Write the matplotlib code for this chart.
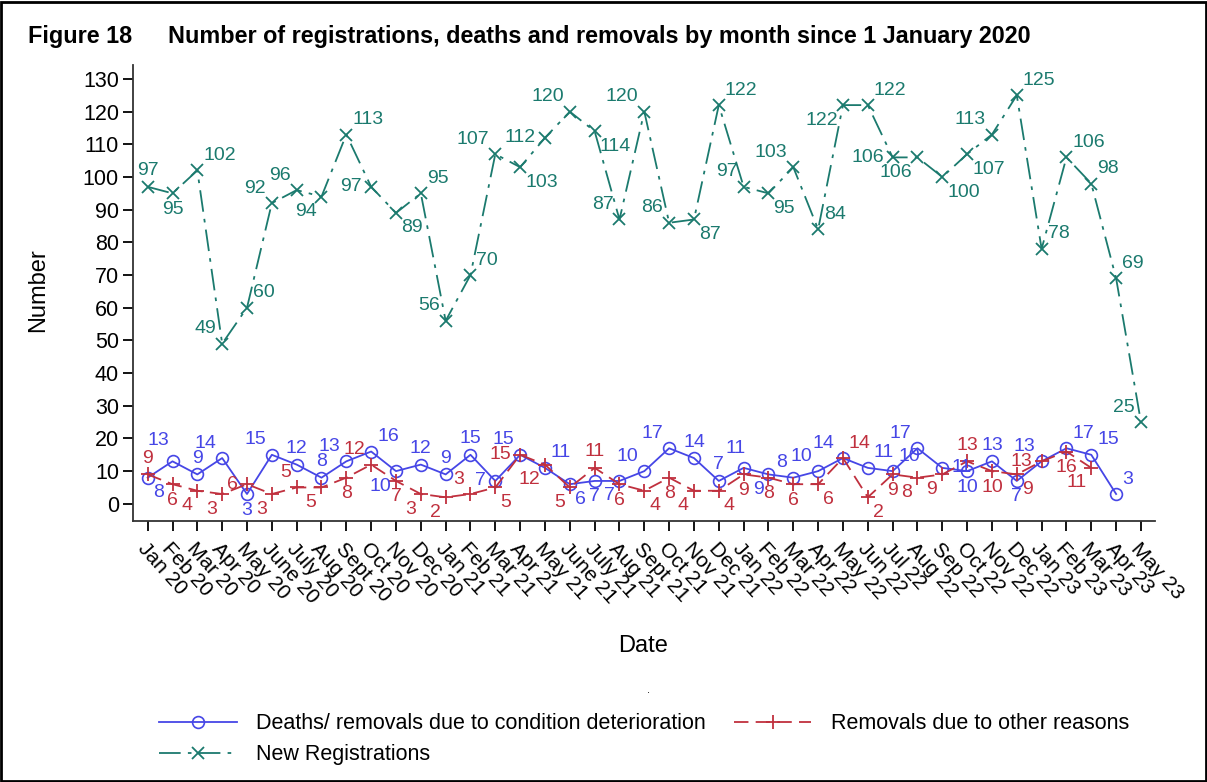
import numpy as np
import matplotlib
matplotlib.use("Agg")
import matplotlib.pyplot as plt
from matplotlib.patches import Rectangle

plt.rcParams['font.family'] = ['Liberation Sans', 'DejaVu Sans']

months = ['Jan 20', 'Feb 20', 'Mar 20', 'Apr 20', 'May 20', 'June 20', 'July 20', 'Aug 20', 'Sept 20',
          'Oct 20', 'Nov 20', 'Dec 20',
          'Jan 21', 'Feb 21', 'Mar 21', 'Apr 21', 'May 21', 'June 21', 'July 21', 'Aug 21', 'Sept 21',
          'Oct 21', 'Nov 21', 'Dec 21',
          'Jan 22', 'Feb 22', 'Mar 22', 'Apr 22', 'May 22', 'Jun 22', 'Jul 22', 'Aug 22', 'Sep 22',
          'Oct 22', 'Nov 22', 'Dec 22',
          'Jan 23', 'Feb 23', 'Mar 23', 'Apr 23', 'May 23']

deaths = [8, 13, 9, 14, 3, 15, 12, 8, 13, 16, 10, 12,
          9, 15, 7, 15, 11, 6, 7, 7, 10, 17, 14, 7,
          11, 9, 8, 10, 14, 11, 10, 17, 11, 10, 13, 7,
          13, 17, 15, 3, np.nan]

other = [9, 6, 4, 3, 6, 3, 5, 5, 8, 12, 7, 3,
         2, 3, 5, 15, 12, 5, 11, 6, 4, 8, 4, 4,
         9, 8, 6, 6, 14, 2, 9, 8, 9, 13, 10, 9,
         13, 16, 11, np.nan, np.nan]

new_reg = [97, 95, 102, 49, 60, 92, 96, 94, 113, 97, 89, 95,
           56, 70, 107, 103, 112, 120, 114, 87, 120, 86, 87, 122,
           97, 95, 103, 84, 122, 122, 106, 106, 100, 107, 113, 125,
           78, 106, 98, 69, 25]

# where each value label sits relative to its point
deaths_pos = ['lr', 'uul', 'u', 'ul', 'd', 'ul', 'u', 'u', 'ul', 'ur', 'll', 'u',
              'u', 'u', 'l', 'ul', 'ur', 'lr', 'd', 'll', 'ul', 'ul', 'u', 'u',
              'uur', 'll', 'ul', 'ul', 'ull', 'ur', 'ur', 'ul', 'r', 'd', 'u', 'd',
              'ul', 'ur', 'ur', 'ur', None]
other_pos = ['u', 'd', 'll', 'll', 'l', 'll', 'ul', 'll', 'd', 'ul', 'd', 'll',
             'll', 'ul', 'lr', 'l', 'll', 'll', 'u', 'd', 'lr', 'd', 'll', 'lr',
             'd', 'd', 'd', 'lr', 'ur', 'lr', 'd', 'll', 'll', 'u', 'd', 'lr',
             'l', 'd', 'll', None, None]
new_pos = ['u', 'd', 'ur', 'ul', 'ur', 'ul', 'ul', 'll', 'ur', 'l', 'lr', 'ur',
           'ul', 'ur', 'ul', 'lr', 'l', 'ul', 'lr', 'ul', 'ul', 'ul', 'lr', 'ur',
           'ul', 'lr', 'ul', 'ur', 'll', 'ur', 'l', 'll', 'lr', 'lr', 'ul', 'ur',
           'ur', 'ur', 'ur', 'ur', 'ul']

blue = '#4646E6'
red = '#C0303E'
teal = '#1B7A6E'

offsets = {'u': (0, 16, 'center'), 'd': (0, -16, 'center'),
           'ur': (6, 15, 'left'), 'ul': (-6, 15, 'right'),
           'uul': (-3, 21, 'right'), 'uur': (-8, 19, 'center'), 'ull': (-9, 15, 'right'),
           'lr': (5, -15, 'left'), 'll': (-5, -15, 'right'),
           'l': (-9, 0, 'right'), 'r': (9, 0, 'left')}


def add_labels(ax, xs, ys, pos, color):
    for xi, yi, p in zip(xs, ys, pos):
        if p is None or np.isnan(yi):
            continue
        dx, dy, ha = offsets[p]
        ax.annotate(str(int(yi)), (xi, yi), xytext=(dx, dy), textcoords='offset pixels',
                    ha=ha, va='center', fontsize=14, color=color)


fig = plt.figure(figsize=(12.07, 7.82), dpi=100)
ax = fig.add_axes([0.110, 0.334, 0.847, 0.583])

x = np.arange(len(months))

l1, = ax.plot(x, deaths, color=blue, lw=1.3, marker='o', mfc='none', ms=8.5, mew=1.2)
l2, = ax.plot(x, other, color=red, lw=1.3, ls=(0, (8, 4)), marker='+', ms=10, mew=1.3)
l3, = ax.plot(x, new_reg, color=teal, lw=1.3, ls=(0, (12, 4, 2, 4)), marker='x', ms=9, mew=1.3)

add_labels(ax, x, deaths, deaths_pos, blue)
add_labels(ax, x, other, other_pos, red)
add_labels(ax, x, new_reg, new_pos, teal)

ax.set_xlim(-0.6, 40.57)
ax.set_ylim(-5.2, 134.3)
ax.set_yticks(np.arange(0, 131, 10))
ax.set_xticks(x)
ax.set_xticklabels(months, rotation=-48, ha='left', va='top', rotation_mode='anchor', fontsize=15)
ax.tick_params(axis='y', length=7, width=1.3, labelsize=15.5, pad=3)
ax.tick_params(axis='x', length=7, width=1.3, pad=6)

for s in ['top', 'right']:
    ax.spines[s].set_visible(False)
for s in ['left', 'bottom']:
    ax.spines[s].set_linewidth(1.3)
    ax.spines[s].set_color('#333333')

fig.text(38 / 1207, 1 - 290 / 782, 'Number', rotation=90, ha='center', va='center', fontsize=17)
fig.text(643 / 1207, 1 - 646 / 782, 'Date', ha='center', va='center', fontsize=17)
fig.text(648 / 1207, 1 - 690 / 782, '.', ha='center', va='center', fontsize=8)

fig.text(28 / 1207, 1 - 36 / 782, 'Figure 18', ha='left', va='center', fontsize=16.8, fontweight='bold')
fig.text(168 / 1207, 1 - 36 / 782, 'Number of registrations, deaths and removals by month since 1 January 2020',
         ha='left', va='center', fontsize=16.8, fontweight='bold')

fig.legend(handles=[l1, l3, l2],
           labels=['Deaths/ removals due to condition deterioration', 'New Registrations',
                   'Removals due to other reasons'],
           loc='upper left', bbox_to_anchor=(140 / 1207, 1 - 694 / 782), ncol=2, frameon=False,
           fontsize=15.5, handlelength=3.6, columnspacing=1.3, handletextpad=0.9,
           labelspacing=0.45, numpoints=1)

fig.add_artist(Rectangle((0.001, 0.001), 0.998, 0.997, transform=fig.transFigure,
                         fill=False, lw=2, ec='black'))

fig.savefig('out.png', dpi=100)
